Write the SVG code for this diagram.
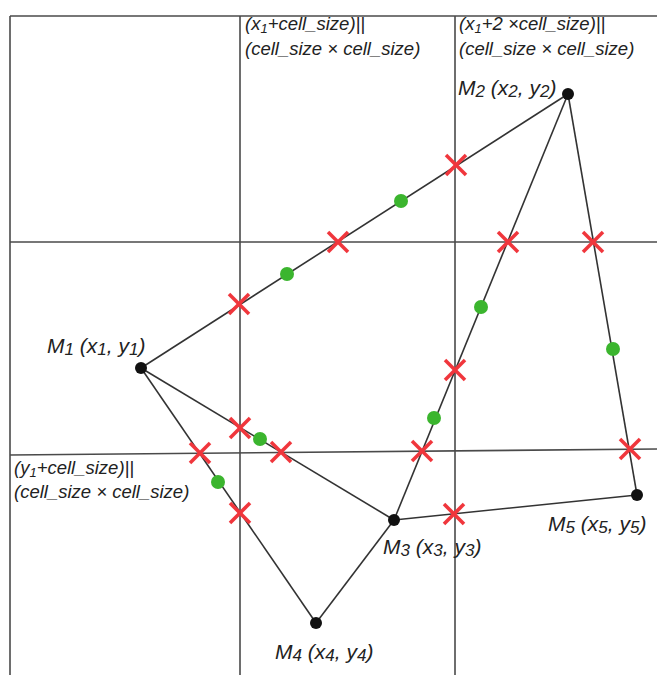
<svg xmlns="http://www.w3.org/2000/svg" width="657" height="675" viewBox="0 0 657 675">
  <style>
    .grid { stroke: #4a4a4a; stroke-width: 1.6; fill: none; }
    .edge { stroke: #333; stroke-width: 1.6; fill: none; }
    .pt { fill: #111; }
    .lbl { font-family: "Liberation Sans", Arial, sans-serif; font-style: italic; font-size: 21px; fill: #222; }
    .glbl { font-family: "Liberation Sans", Arial, sans-serif; font-style: italic; font-size: 18.5px; fill: #222; }
    .sub { font-size: 17px; }
    .gsub { font-size: 13px; }
    .cross { stroke: #f0363c; stroke-width: 3.6; }
    .mid { fill: #3bb52e; }
  </style>
  <defs>
    <g id="x">
      <line class="cross" x1="-10" y1="-10" x2="10" y2="10"/>
      <line class="cross" x1="-10" y1="10" x2="10" y2="-10"/>
    </g>
  </defs>
  <rect width="657" height="675" fill="#fff"/>

  <g id="grid">
    <line class="grid" x1="10" y1="16" x2="657" y2="16"/>
    <line class="grid" x1="10" y1="16" x2="10" y2="675"/>
    <line class="grid" x1="240" y1="16" x2="240" y2="675"/>
    <line class="grid" x1="455" y1="16" x2="455" y2="675"/>
    <line class="grid" x1="10" y1="242" x2="657" y2="242"/>
    <line class="grid" x1="10" y1="455" x2="657" y2="449"/>
    <text class="glbl" x="245" y="30">(x<tspan class="gsub" dy="3">1</tspan><tspan dy="-3">+cell_size)||</tspan></text>
    <text class="glbl" x="245" y="55">(cell_size × cell_size)</text>
    <text class="glbl" x="459" y="30">(x<tspan class="gsub" dy="3">1</tspan><tspan dy="-3">+2 ×cell_size)||</tspan></text>
    <text class="glbl" x="459" y="55">(cell_size × cell_size)</text>
    <text class="glbl" x="14" y="474">(y<tspan class="gsub" dy="3">1</tspan><tspan dy="-3">+cell_size)||</tspan></text>
    <text class="glbl" x="14" y="498">(cell_size × cell_size)</text>
  </g>

  <g id="connectors">
    <line class="edge" x1="141" y1="368" x2="568" y2="94"/>
    <line class="edge" x1="141" y1="368" x2="394" y2="520"/>
    <line class="edge" x1="141" y1="368" x2="316" y2="623"/>
    <line class="edge" x1="568" y1="94" x2="394" y2="520"/>
    <line class="edge" x1="568" y1="94" x2="637" y2="495"/>
    <line class="edge" x1="394" y1="520" x2="637" y2="495"/>
    <line class="edge" x1="394" y1="520" x2="316" y2="623"/>
  </g>

  <g id="crossings">
    <use href="#x" x="456" y="165"/>
    <use href="#x" x="338" y="242"/>
    <use href="#x" x="508" y="242"/>
    <use href="#x" x="593" y="242"/>
    <use href="#x" x="239" y="304"/>
    <use href="#x" x="455" y="370"/>
    <use href="#x" x="240" y="428"/>
    <use href="#x" x="200" y="453"/>
    <use href="#x" x="281" y="452"/>
    <use href="#x" x="422" y="451"/>
    <use href="#x" x="630" y="449"/>
    <use href="#x" x="240" y="513"/>
    <use href="#x" x="454" y="514"/>
  </g>

  <g id="midpoints">
    <circle class="mid" cx="401" cy="201" r="7"/>
    <circle class="mid" cx="287" cy="274" r="7"/>
    <circle class="mid" cx="481" cy="307" r="7"/>
    <circle class="mid" cx="613" cy="349" r="7"/>
    <circle class="mid" cx="434" cy="418" r="7"/>
    <circle class="mid" cx="260" cy="439" r="7"/>
    <circle class="mid" cx="218" cy="482" r="7"/>
  </g>

  <g id="M1">
    <circle class="pt" cx="141" cy="368" r="6"/>
    <text class="lbl" x="47" y="353">M<tspan class="sub" dy="2">1</tspan><tspan dy="-2"> (x</tspan><tspan class="sub" dy="2">1</tspan><tspan dy="-2">, y</tspan><tspan class="sub" dy="2">1</tspan><tspan dy="-2">)</tspan></text>
  </g>
  <g id="M2">
    <circle class="pt" cx="568" cy="94" r="6"/>
    <text class="lbl" x="458" y="95">M<tspan class="sub" dy="2">2</tspan><tspan dy="-2"> (x</tspan><tspan class="sub" dy="2">2</tspan><tspan dy="-2">, y</tspan><tspan class="sub" dy="2">2</tspan><tspan dy="-2">)</tspan></text>
  </g>
  <g id="M3">
    <circle class="pt" cx="394" cy="520" r="6"/>
    <text class="lbl" x="383" y="554">M<tspan class="sub" dy="2">3</tspan><tspan dy="-2"> (x</tspan><tspan class="sub" dy="2">3</tspan><tspan dy="-2">, y</tspan><tspan class="sub" dy="2">3</tspan><tspan dy="-2">)</tspan></text>
  </g>
  <g id="M4">
    <circle class="pt" cx="316" cy="623" r="6"/>
    <text class="lbl" x="275" y="659">M<tspan class="sub" dy="2">4</tspan><tspan dy="-2"> (x</tspan><tspan class="sub" dy="2">4</tspan><tspan dy="-2">, y</tspan><tspan class="sub" dy="2">4</tspan><tspan dy="-2">)</tspan></text>
  </g>
  <g id="M5">
    <circle class="pt" cx="637" cy="495" r="6"/>
    <text class="lbl" x="548" y="531">M<tspan class="sub" dy="2">5</tspan><tspan dy="-2"> (x</tspan><tspan class="sub" dy="2">5</tspan><tspan dy="-2">, y</tspan><tspan class="sub" dy="2">5</tspan><tspan dy="-2">)</tspan></text>
  </g>
</svg>
